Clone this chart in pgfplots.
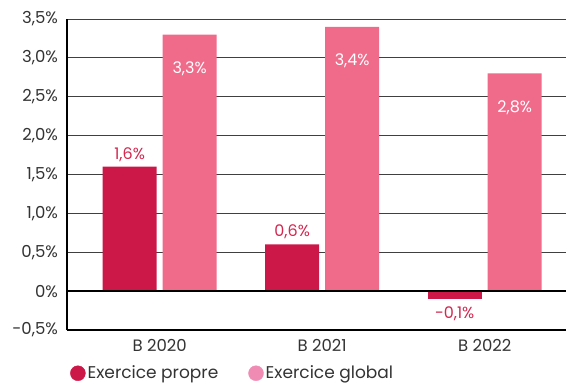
\documentclass[border=0pt]{standalone}
\usepackage{pgfplots}
\pgfplotsset{compat=1.18}
\usepackage{fontspec}
\setmainfont{Poppins}
\definecolor{crim}{HTML}{CC1848}
\definecolor{pinkbar}{HTML}{F06A8A}
\definecolor{pinkleg}{HTML}{F08CB4}
\definecolor{crimtxt}{HTML}{D22850}
\definecolor{txt}{HTML}{333333}
\begin{document}
\fontsize{17}{20}\selectfont
\begin{tikzpicture}
\begin{axis}[
  name=ax, at={(0,0)}, anchor=south west,
  scale only axis, width=499pt, height=311pt,
  xmin=-0.57, xmax=2.5, ymin=-0.5, ymax=3.5,
  ybar, bar width=54pt,
  axis x line=bottom, axis y line=left,
  axis line style={line width=2pt, -},
  xtick={0,1,2}, xticklabels={B 2020, B 2021, B 2022},
  ytick={-0.5,0,0.5,1,1.5,2,2.5,3,3.5},
  yticklabels={{-0,5\%},{0\%},{0,5\%},{1,0\%},{1,5\%},{2,0\%},{2,5\%},{3,0\%},{3,5\%}},
  tick style={draw=none},
  ymajorgrids, grid style={black!75, line width=0.8pt},
  ticklabel style={font=\fontsize{16.5}{20}\selectfont, text=txt},
  xticklabel style={yshift=-1pt},
  yticklabel style={xshift=-1pt},
  /pgf/number format/assume math mode=true,
  point meta=explicit symbolic,
  nodes near coords,
  legend columns=2,
  legend style={draw=none, fill=none, at={(0,-0.139)}, anchor=west,
    font=\fontsize{17}{20}\selectfont, text=txt,
    /tikz/every even column/.append style={column sep=28pt}},
  clip=false,
]
\addlegendimage{legend image code/.code={\fill[crim] (4pt,0) circle (7.5pt);}}
\addlegendentry{Exercice propre}
\addlegendimage{legend image code/.code={\fill[pinkleg] (4pt,0) circle (7.5pt);}}
\addlegendentry{Exercice global}
\addplot[fill=crim, draw=none, bar shift=-30pt, forget plot,
  nodes near coords style={text=crimtxt, font=\fontsize{16}{19}\selectfont, anchor=south, inner sep=5pt}]
  coordinates {(0,1.6) [1,6\%] (1,0.6) [0,6\%]};
\addplot[fill=crim, draw=none, bar shift=-30pt, forget plot,
  nodes near coords style={text=crimtxt, font=\fontsize{16}{19}\selectfont, anchor=north, inner sep=8pt}]
  coordinates {(2,-0.1) [-0,1\%]};
\addplot[fill=pinkbar, draw=none, bar shift=30pt, forget plot,
  nodes near coords style={text=white, font=\fontsize{16}{19}\selectfont, anchor=north, yshift=-27pt, inner sep=0pt}]
  coordinates {(0,3.3) [3,3\%] (1,3.4) [3,4\%] (2,2.8) [2,8\%]};
\draw[line width=2pt] (axis cs:-0.57,0) -- (axis cs:2.5,0);
\end{axis}
\pgfresetboundingbox
\path (-67pt,-54pt) rectangle (499pt,330pt);
\end{tikzpicture}
\end{document}
